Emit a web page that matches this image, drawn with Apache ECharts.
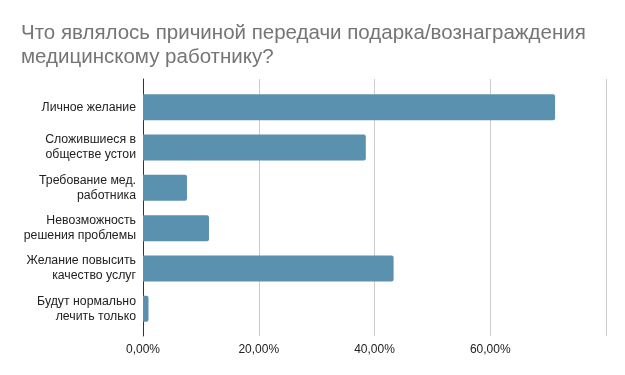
<!DOCTYPE html>
<html><head><meta charset="utf-8">
<script src="https://cdn.jsdelivr.net/npm/echarts@6/dist/echarts.min.js"></script>
<style>html,body{margin:0;padding:0;background:#fff}#c{width:625px;height:375px}</style>
</head><body><div id="c"></div>
<script>
const titleText = 'Что являлось причиной передачи подарка/вознаграждения\nмедицинскому работнику?';
const categories = ['Личное желание','Сложившиеся в\nобществе устои','Требование мед.\nработника','Невозможность\nрешения проблемы','Желание повысить\nкачество услуг','Будут нормально\nлечить только'];
const values = [71.2, 38.5, 7.6, 11.4, 43.3, 0.95];
const xTicks = [0, 20, 40, 60, 80];

const fmt = v => v.toFixed(2).replace('.', ',') + '%';
const chart = echarts.init(document.getElementById('c'), null, {renderer:'canvas'});
chart.setOption({
  animation:false,
  backgroundColor:'#fff',
  title:{text:titleText,left:16,top:16,textStyle:{fontFamily:'Liberation Sans, Arial',fontSize:20.5,fontWeight:'normal',color:'#757575',lineHeight:24}},
  grid:[
    {left:143,top:87,width:463,height:242},
    {left:143,top:79,width:463,height:257}
  ],
  xAxis:[
    {gridIndex:0,type:'value',min:xTicks[0],max:xTicks[xTicks.length-1],interval:20,
      axisLine:{show:false},axisTick:{show:false},splitLine:{show:false},axisLabel:{show:false}},
    {gridIndex:1,type:'value',min:xTicks[0],max:xTicks[xTicks.length-1],interval:20,z:0,
      axisLine:{show:false},axisTick:{show:false},
      splitLine:{lineStyle:{color:'#cccccc',width:1}},
      axisLabel:{showMaxLabel:false,margin:8,fontFamily:'Liberation Sans, Arial',fontSize:12,color:'#222',formatter:fmt}}
  ],
  yAxis:[
    {gridIndex:0,type:'category',data:categories,inverse:true,
      axisLine:{show:false},axisTick:{show:false},
      axisLabel:{margin:7,fontFamily:'Liberation Sans, Arial',fontSize:12.3,color:'#222',lineHeight:15,align:'right'}},
    {gridIndex:1,type:'value',min:0,max:1,
      axisLine:{show:true,lineStyle:{color:'#333',width:1}},axisTick:{show:false},
      axisLabel:{show:false},splitLine:{show:false}}
  ],
  series:[{type:'bar',xAxisIndex:0,yAxisIndex:0,data:values,barWidth:26,z:3,
    itemStyle:{color:'#5a91ae',borderRadius:[0,2,2,0]}}]
});
</script></body></html>
